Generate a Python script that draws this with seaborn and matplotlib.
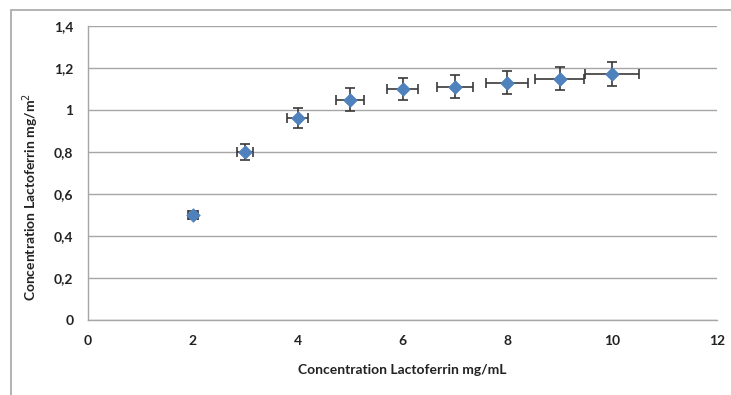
import matplotlib
matplotlib.use("Agg")
import matplotlib.pyplot as plt
import seaborn as sns
import pandas as pd
from matplotlib.ticker import FuncFormatter, MultipleLocator
from matplotlib.patches import Rectangle

x_conc = [2, 3, 4, 5, 6, 7, 8, 9, 10]
y_conc = [0.50, 0.80, 0.96, 1.05, 1.10, 1.11, 1.13, 1.15, 1.17]
x_err = [0.10, 0.15, 0.20, 0.26, 0.30, 0.35, 0.40, 0.47, 0.52]
y_err = [0.02, 0.04, 0.048, 0.054, 0.053, 0.055, 0.055, 0.057, 0.057]

df = pd.DataFrame({"x": x_conc, "y": y_conc, "xe": x_err, "ye": y_err})

sns.set_style("white")
plt.rcParams["font.family"] = ["Lato", "DejaVu Sans"]

fig = plt.figure(figsize=(7.31, 3.95), dpi=100)
ax = fig.add_axes([88 / 731, 1 - 320 / 395, (717 - 88) / 731, (320 - 26) / 395])

# outer frame
fig.patches.append(Rectangle((11 / 731, -0.05), 1.2, 1 - 10 / 395 + 0.05,
                             transform=fig.transFigure, fill=False,
                             edgecolor="#A6A6A6", linewidth=1.2, zorder=0))

ax.errorbar(df["x"], df["y"], xerr=df["xe"], yerr=df["ye"], fmt="none",
            ecolor="#3a3a3a", elinewidth=1.2, capsize=3.5, capthick=1.2, zorder=2)
sns.scatterplot(data=df, x="x", y="y", ax=ax, marker="D", s=48,
                color="#4F81BD", edgecolor="#4F81BD", linewidth=0.5, zorder=3)

ax.set_xlim(0, 12)
ax.set_ylim(0, 1.4)
ax.xaxis.set_major_locator(MultipleLocator(2))
ax.yaxis.set_major_locator(MultipleLocator(0.2))

def fmt(v, pos):
    s = f"{v:.1f}".rstrip("0").rstrip(".")
    return s.replace(".", ",")

ax.yaxis.set_major_formatter(FuncFormatter(fmt))
ax.xaxis.set_major_formatter(FuncFormatter(lambda v, p: f"{int(round(v))}"))

ax.grid(axis="y", color="#A6A6A6", linewidth=1.0)
ax.grid(axis="x", visible=False)
for side in ["top", "right"]:
    ax.spines[side].set_visible(False)
for side in ["left", "bottom"]:
    ax.spines[side].set_color("#A6A6A6")
    ax.spines[side].set_linewidth(1.0)

ax.tick_params(axis="both", which="major", length=3.6, width=1.0, color="#A6A6A6",
               labelsize=10, labelcolor="#222222", direction="out")
ax.tick_params(axis="x", pad=7)
ax.tick_params(axis="y", pad=7)
for lab in ax.get_xticklabels() + ax.get_yticklabels():
    lab.set_fontweight("bold")

ax.set_xlabel("Concentration Lactoferrin mg/mL", fontsize=10, fontweight="bold",
              color="#222222")
ax.set_ylabel("Concentration Lactoferrin mg/m$^2$", fontsize=10, fontweight="bold",
              color="#222222")
ax.xaxis.set_label_coords(0.5, -44 / 294)
ax.yaxis.set_label_coords(-47 / 629, 0.42)

fig.savefig("out.png", dpi=100)
